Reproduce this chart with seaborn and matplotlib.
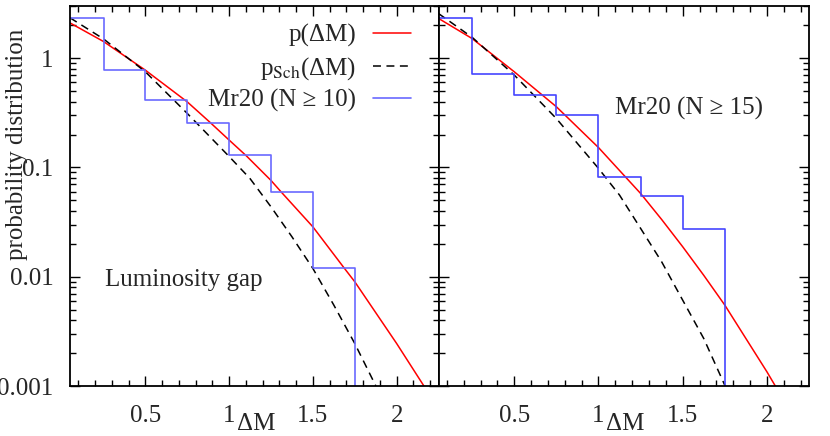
import numpy as np
import pandas as pd
import matplotlib
matplotlib.use('Agg')
import matplotlib.pyplot as plt
import seaborn as sns
from matplotlib.ticker import FixedLocator, MultipleLocator, LogLocator, NullFormatter

# histogram bins (edges) and heights
bin_edges = [0.0, 0.25, 0.5, 0.75, 1.0, 1.25, 1.5, 1.75]
hist_n10 = [2.32, 0.776, 0.41, 0.253, 0.130, 0.0598, 0.0119]
hist_n15 = [2.35, 0.714, 0.462, 0.30, 0.082, 0.0546, 0.0272]

# model curves, left panel
x_p_left = [0.05, 0.25, 0.5, 0.75, 0.883, 1.0, 1.102, 1.25, 1.31, 1.5, 1.687, 1.75, 2.0, 2.163]
p_left = [2.1, 1.42, 0.776, 0.398, 0.261, 0.178, 0.128, 0.076, 0.0598, 0.0286, 0.012, 0.0090, 0.00245, 0.001]
x_sch_left = [0.05, 0.25, 0.5, 0.75, 1.0, 1.125, 1.25, 1.375, 1.5, 1.625, 1.75, 1.876]
sch_left = [2.34, 1.5, 0.75, 0.312, 0.126, 0.079, 0.0436, 0.0232, 0.0119, 0.0055, 0.00245, 0.001]

# model curves, right panel
x_p_right = [0.05, 0.25, 0.5, 0.75, 1.0, 1.25, 1.375, 1.5, 1.625, 1.75, 2.0, 2.05]
p_right = [2.31, 1.51, 0.75, 0.359, 0.152, 0.0578, 0.0334, 0.0188, 0.0103, 0.0055, 0.00135, 0.001]
x_sch_right = [0.05, 0.25, 0.5, 0.75, 1.0, 1.125, 1.25, 1.375, 1.5, 1.625, 1.752]
sch_right = [2.56, 1.55, 0.70, 0.28, 0.098, 0.0558, 0.0277, 0.0137, 0.0061, 0.00272, 0.001]

x_ticks = [0.5, 1.0, 1.5, 2.0]
x_ticklabels = ['0.5', '1', '1.5', '2']
y_ticks = [1, 0.1, 0.01, 0.001]
y_ticklabels = ['1', '0.1', '0.01', '0.001']

sns.set_theme(style='ticks')
plt.rcParams['font.family'] = ['Liberation Serif', 'DejaVu Serif']
plt.rcParams['mathtext.fontset'] = 'stix'
plt.rcParams['font.size'] = 18

fig = plt.figure(figsize=(8.3, 4.36), dpi=100)
ax1 = fig.add_axes([70 / 830, 50 / 436, 368.5 / 830, 380 / 436])
ax2 = fig.add_axes([438.5 / 830, 50 / 436, 370.5 / 830, 380 / 436])

floor = 1e-5  # drop the last histogram step below the axis


def panel(ax, xp, p, xs, sch, hist, hist_label, hist_color):
    sns.lineplot(x=xp, y=p, ax=ax, color='#ff0000', lw=1.1, estimator=None,
                 sort=False, label='p(ΔM)')
    sns.lineplot(x=xs, y=sch, ax=ax, color='black', lw=1.1, estimator=None,
                 sort=False, label='p$_{\\rm Sch}$(ΔM)', linestyle=(0, (5.2, 3.6)))
    sns.lineplot(x=bin_edges, y=hist + [floor], ax=ax, color=hist_color, lw=1.2,
                 estimator=None, sort=False, drawstyle='steps-post', label=hist_label)
    ax.set_yscale('log')
    ax.set_xlim(0.05, 2.25)
    ax.set_ylim(0.001, 3)
    ax.xaxis.set_major_locator(FixedLocator(x_ticks))
    ax.set_xticklabels(x_ticklabels)
    ax.xaxis.set_minor_locator(MultipleLocator(0.1))
    ax.yaxis.set_major_locator(FixedLocator(y_ticks))
    ax.yaxis.set_minor_locator(LogLocator(base=10, subs=np.arange(2, 10)))
    ax.yaxis.set_minor_formatter(NullFormatter())
    ax.tick_params(which='both', direction='in', top=True, right=True,
                   color='black', width=1.0, labelsize=18)
    ax.tick_params(which='major', length=7, pad=12)
    ax.tick_params(which='minor', length=4)
    ax.tick_params(axis='x', which='major', pad=14)
    for s in ax.spines.values():
        s.set_linewidth(1.3)
        s.set_color('black')
    ax.set_xlabel('ΔM', fontsize=18)
    ax.xaxis.set_label_coords(0.505, -0.072)


panel(ax1, x_p_left, p_left, x_sch_left, sch_left, hist_n10, 'Mr20 (N ≥ 10)', '#6a6aff')
panel(ax2, x_p_right, p_right, x_sch_right, sch_right, hist_n15, 'Mr20 (N ≥ 15)', '#4545ff')

ax1.set_yticklabels(y_ticklabels)
ax1.set_ylabel('probability distribution', fontsize=18)
ax1.yaxis.set_label_coords(-0.115, 0.635)
ax2.set_yticklabels([])
ax2.set_ylabel('')

leg = ax1.legend(loc='upper right', bbox_to_anchor=(0.925, 0.952), frameon=False,
                 markerfirst=False, fontsize=18, handlelength=1.5, handletextpad=0.7,
                 labelspacing=0.3, borderpad=0, borderaxespad=0)
ax2.get_legend().remove()

ax1.text(0.258, 0.0082, 'Luminosity gap', fontsize=18, ha='left', va='baseline')
ax2.text(1.10, 0.307, 'Mr20 (N ≥ 15)', fontsize=18, ha='left', va='baseline')

fig.savefig('out.png', dpi=100)
